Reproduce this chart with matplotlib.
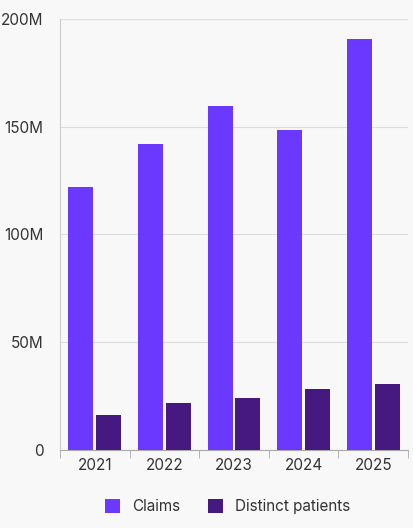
import matplotlib
matplotlib.use("Agg")
import matplotlib.pyplot as plt
import numpy as np

years = ["2021", "2022", "2023", "2024", "2025"]
claims = [122, 142, 159.6, 148.5, 190.7]
patients = [16.2, 21.8, 24.1, 28.3, 30.6]

plt.rcParams['font.family'] = ['Inter', 'DejaVu Sans']
bg = "#f8f8f8"
fig = plt.figure(figsize=(4.14, 5.28), dpi=100, facecolor=bg)
ax = fig.add_axes([60/414, 78/528, 348/414, 431/528], facecolor=bg)
x = np.arange(len(years))
w = 0.36
ax.bar(x - w/2 - 0.02, claims, w, color="#6a38ff", label="Claims", zorder=3)
ax.bar(x + w/2 + 0.02, patients, w, color="#45197f", label="Distinct patients", zorder=3)
ax.set_xlim(-0.5, 4.5)
ax.set_ylim(0, 200)
ax.set_yticks([0, 50, 100, 150, 200])
ax.set_yticklabels(["0", "50M", "100M", "150M", "200M"])
ax.grid(axis="y", color="#dddddd", lw=0.8, zorder=0)
ax.set_xticks(x)
ax.set_xticklabels(years)
ax.set_xticks(np.arange(-0.5, 5, 1), minor=True)
ax.tick_params(axis="x", which="major", length=0, labelsize=11, colors="#333333", pad=6)
ax.tick_params(axis="x", which="minor", length=6, color="#aaaaaa")
ax.tick_params(axis="y", length=0, labelsize=11, colors="#333333", pad=12)
for s in ["top", "right"]:
    ax.spines[s].set_visible(False)
ax.spines["left"].set_color("#cccccc")
ax.spines["bottom"].set_color("#aaaaaa")
fig.legend(loc="lower center", bbox_to_anchor=(0.55, 0.0), ncol=2, frameon=False,
           fontsize=11, handlelength=1.0, handleheight=1.0, columnspacing=1.8,
           labelcolor="#333333")
fig.savefig("out.png", dpi=100, facecolor=bg)
